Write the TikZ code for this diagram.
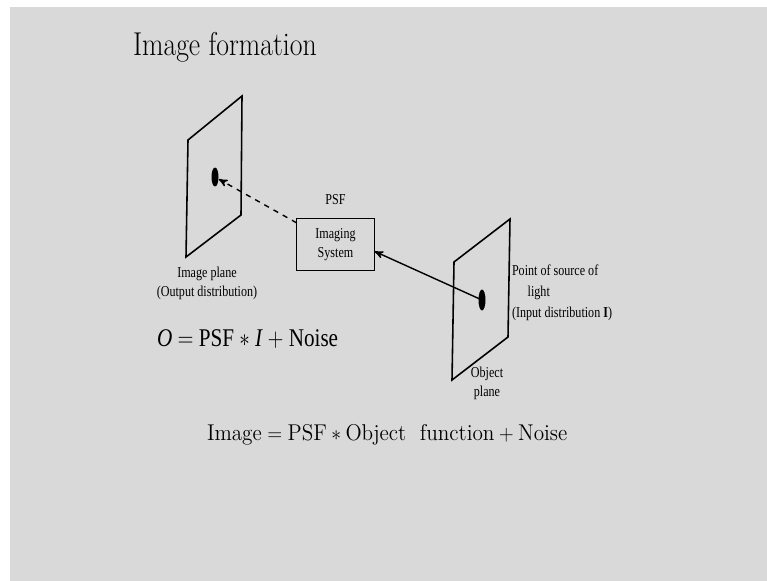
\documentclass[tikz,border=0pt]{standalone}
\usepackage{fontspec}
\newfontfamily\tmsfont{Liberation Serif}
\usetikzlibrary{arrows}
\usetikzlibrary{shapes.geometric}
\usetikzlibrary{positioning}
\definecolor{slidegray}{HTML}{D9D9D9}
\tikzset{
  textnode/.style = {inner sep=0pt, outer sep=0pt},
  title_n/.style = {textnode, font=\fontsize{18.8}{22}\selectfont, xscale=0.84},% slide title
  eq_n/.style = {textnode, font=\fontsize{13}{15}\selectfont, xscale=0.93},% latin modern equation
  teq_n/.style = {textnode, font=\tmsfont\fontsize{14.5}{16}\selectfont, xscale=0.83},% times equation
  lbl_n/.style = {textnode, align=center, font=\tmsfont\fontsize{8.6}{10.8}\selectfont,
    xscale=0.8},% small labels
  box_n/.style = {lbl_n, draw=black, line width=0.8pt, minimum width=1.95cm,
    minimum height=1.05cm},% imaging system
  dot_n/.style = {ellipse, fill=black, inner sep=0pt, minimum width=0.14cm,
    minimum height=0.4cm},% point on a plane
  plane/.style = {draw=black, line width=0.9pt, line join=miter},
}

\begin{document}
\begin{tikzpicture}[->,>=stealth',x=0.02cm,y=-0.02cm]
\useasboundingbox (0,0) rectangle (767,581);
\fill[white] (0,0) rectangle (767,581);
\fill[slidegray] (10,7.5) rectangle (767,581);

\node [title_n, anchor=base west] (title) at (133,56) {Image formation};

% image plane (left)
\coordinate (ip1) at (188,140);
\coordinate (ip2) at (242,96);
\coordinate (ip3) at (241,215);
\coordinate (ip4) at (186,257);
\draw [plane,-] (ip1) -- (ip2) -- (ip3) -- (ip4) -- cycle;
\node [dot_n, minimum height=0.38cm] (imgdot) at (215,177) {};
\node [lbl_n] (imglbl) at (207,283) {Image plane\\(Output distribution)};

% object plane (right)
\coordinate (op1) at (454,262);
\coordinate (op2) at (510,219);
\coordinate (op3) at (508,337);
\coordinate (op4) at (452,380);
\draw [plane,-] (op1) -- (op2) -- (op3) -- (op4) -- cycle;
\node [dot_n, minimum height=0.42cm] (objdot) at (482,300) {};
\node [lbl_n, align=left, anchor=north west] (srclbl) at (512,265)
  {Point of source of\\[1pt]\hspace*{1.3em}light\\[1pt](Input distribution \textbf{I})};
\node [lbl_n] (objlbl) at (487,383) {Object\\plane};

% imaging system
\node [box_n] (sys) at (335.5,244.5) {Imaging\\System};
\node [lbl_n, above=8pt of sys] (psf) {PSF};

\draw [line width=0.8pt, dashed] (sys.156) -- (imgdot);
\draw [line width=0.8pt] (objdot.center) -- (sys.352);

% equations
\node [teq_n, anchor=base west] (eqo) at (157,346.7)
  {\itshape O\upshape{} $=$ PSF $\ast$ \itshape I\upshape{} $+$ Noise};
\node [eq_n, anchor=base west] (eqimg) at (207,440)
  {$\mathrm{Image} = \mathrm{PSF} \ast \mathrm{Object}\hspace{0.65em} \mathrm{function} + \mathrm{Noise}$};
\end{tikzpicture}
\end{document}
